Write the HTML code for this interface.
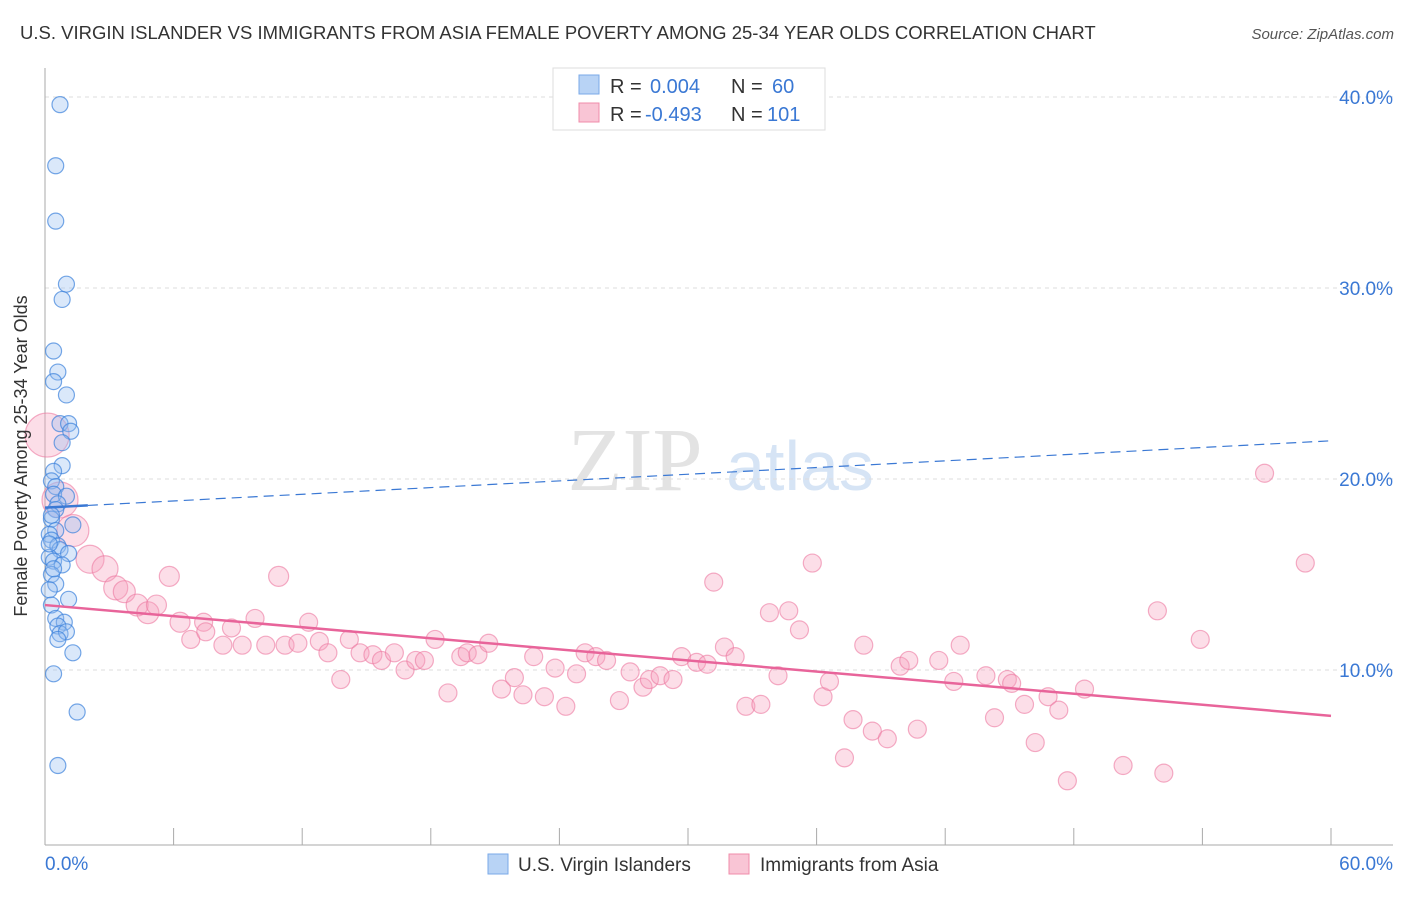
<!DOCTYPE html>
<html><head><meta charset="utf-8"><style>
body{margin:0;background:#fff;font-family:"Liberation Sans",sans-serif;}
</style></head><body>
<svg id="c" width="1406" height="892" xmlns="http://www.w3.org/2000/svg">
<text x="20" y="39" font-size="18.5" fill="#333">U.S. VIRGIN ISLANDER VS IMMIGRANTS FROM ASIA FEMALE POVERTY AMONG 25-34 YEAR OLDS CORRELATION CHART</text>
<text x="1394" y="39" font-size="15" fill="#555" font-style="italic" text-anchor="end">Source: ZipAtlas.com</text>
<text x="635" y="490" font-size="90" fill="#e3e3e3" font-family="Liberation Serif,serif" text-anchor="middle">ZIP</text>
<text x="800" y="490" font-size="70" fill="#d6e4f5" text-anchor="middle">atlas</text>
<g id="grid"></g><g id="axes"></g><g id="pts"></g><g id="lines"></g>
<text x="27" y="456" font-size="18" fill="#333" text-anchor="middle" transform="rotate(-90 27 456)">Female Poverty Among 25-34 Year Olds</text>
<g>
<rect x="553" y="68" width="272" height="62" fill="#fff" stroke="#ddd"/>
<rect x="579" y="75" width="20" height="19" fill="#b8d3f5" stroke="#7aaae8"/>
<rect x="579" y="103" width="20" height="19" fill="#f9c5d5" stroke="#f08caa"/>
<text x="610" y="93" font-size="20" fill="#333">R = </text><text x="650" y="93" font-size="20" fill="#3a78d4">0.004</text>
<text x="731" y="93" font-size="20" fill="#333">N = </text><text x="772" y="93" font-size="20" fill="#3a78d4">60</text>
<text x="610" y="121" font-size="20" fill="#333">R = </text><text x="645" y="121" font-size="20" fill="#3a78d4">-0.493</text>
<text x="731" y="121" font-size="20" fill="#333">N = </text><text x="767" y="121" font-size="20" fill="#3a78d4">101</text>
</g>
<g>
<rect x="488" y="854" width="20" height="20" fill="#b8d3f5" stroke="#7aaae8"/>
<text x="518" y="871" font-size="19" fill="#333">U.S. Virgin Islanders</text>
<rect x="729" y="854" width="20" height="20" fill="#f9c5d5" stroke="#f08caa"/>
<text x="760" y="871" font-size="19" fill="#333">Immigrants from Asia</text>
</g>
</svg>
<script>
const yTicks=[10,20,30,40];
const xTickLabels=["0.0%","60.0%"];
const blueX=[0.7,0.5,0.5,1.0,0.8,0.4,0.6,0.4,1.0,0.7,1.1,1.2,0.8,0.8,0.4,0.3,0.5,0.4,1.0,0.6,0.5,0.3,1.3,0.5,0.2,0.3,0.6,0.7,1.1,0.2,0.4,0.8,0.3,0.5,0.2,1.1,0.3,0.5,0.9,0.6,0.7,1.0,1.3,0.4,1.5,0.6,0.2,0.4,0.3,0.6];
const blueY=[39.6,36.4,33.5,30.2,29.4,26.7,25.6,25.1,24.4,22.9,22.9,22.5,21.9,20.7,20.4,19.9,19.6,19.2,19.1,18.7,18.4,17.9,17.6,17.3,17.1,16.8,16.5,16.3,16.1,15.9,15.7,15.5,15.0,14.5,14.2,13.7,13.4,12.7,12.5,12.3,11.9,12.0,10.9,9.8,7.8,5.0,16.6,15.3,18.1,11.6];
const pinkX=[0.1,0.7,1.3,2.1,2.8,3.3,3.7,4.3,4.8,5.2,5.8,6.3,6.8,7.4,7.5,8.3,8.7,9.2,9.8,10.3,10.9,11.2,11.8,12.3,12.8,13.2,13.8,14.2,14.7,15.3,15.7,16.3,16.8,17.3,17.7,18.2,18.8,19.4,19.7,20.2,20.7,21.3,21.9,22.3,22.8,23.3,23.8,24.3,24.8,25.2,25.7,26.2,26.8,27.3,27.9,28.2,28.7,29.3,29.7,30.4,30.9,31.2,31.7,32.2,32.7,33.4,33.8,34.2,34.7,35.2,35.8,36.3,36.6,37.7,37.3,38.2,38.6,39.3,39.9,40.3,40.7,41.7,42.4,42.7,43.9,44.3,44.9,45.1,45.7,46.2,46.8,47.3,47.7,48.5,50.3,51.9,52.2,53.9,56.9,58.8];
const pinkY=[22.3,18.9,17.3,15.8,15.3,14.3,14.1,13.4,13.0,13.4,14.9,12.5,11.6,12.5,12.0,11.3,12.2,11.3,12.7,11.3,14.9,11.3,11.4,12.5,11.5,10.9,9.5,11.6,10.9,10.8,10.5,10.9,10.0,10.5,10.5,11.6,8.8,10.7,10.9,10.8,11.4,9.0,9.6,8.7,10.7,8.6,10.1,8.1,9.8,10.9,10.7,10.5,8.4,9.9,9.1,9.5,9.7,9.5,10.7,10.4,10.3,14.6,11.2,10.7,8.1,8.2,13.0,9.7,13.1,12.1,15.6,8.6,9.4,7.4,5.4,11.3,6.8,6.4,10.2,10.5,6.9,10.5,9.4,11.3,9.7,7.5,9.5,9.3,8.2,6.2,8.6,7.9,4.2,9.0,5.0,13.1,4.6,11.6,20.3,15.6];
const pinkSize=[22,18,16,14,13,12,11,11,11,10,10,10,9,9,9,9,9,9,9,9,10];
const pinkTrend=[13.4,7.6];
const blueTrend=[18.5,22.0];
const X=v=>45+v/60*1286, Y=v=>861-v*19.1;
const NS="http://www.w3.org/2000/svg";
function mk(t,a,p){const e=document.createElementNS(NS,t);for(const k in a)e.setAttribute(k,a[k]);document.getElementById(p).appendChild(e);return e;}
yTicks.forEach(t=>{
 const l=mk('line',{x1:45,x2:1393,y1:Y(t),y2:Y(t),stroke:'#ddd','stroke-dasharray':'4,4'},'grid');
 
 
 const tx=mk('text',{x:1393,y:Y(t)+7,'font-size':19,fill:'#3a78d4','text-anchor':'end'},'grid');
 tx.textContent=t.toFixed(1)+'%';
 
 
});
let a=mk('line',{x1:45,x2:45,y1:68,y2:845,stroke:'#aaa'},'axes');


a=mk('line',{x1:45,x2:1393,y1:845,y2:845,stroke:'#aaa'},'axes');


for(let i=0;i<=10;i++){const t=mk('line',{x1:X(i*6),x2:X(i*6),y1:828,y2:845,stroke:'#aaa'},'axes');
 
 }
let xl=mk('text',{x:45,y:870,'font-size':19,fill:'#3a78d4'},'axes');xl.textContent=xTickLabels[0];


xl=mk('text',{x:1393,y:870,'font-size':19,fill:'#3a78d4','text-anchor':'end'},'axes');xl.textContent=xTickLabels[1];


pinkX.forEach((v,i)=>{const c=mk('circle',{cx:X(v),cy:Y(pinkY[i]),r:pinkSize[i]||9,fill:'rgba(246,160,188,0.35)',stroke:'rgba(236,120,160,0.6)','stroke-width':1.2},'pts');
 
 });
blueX.forEach((v,i)=>{const c=mk('circle',{cx:X(v),cy:Y(blueY[i]),r:8,fill:'rgba(150,190,240,0.35)',stroke:'rgba(60,130,220,0.7)','stroke-width':1.2},'pts');
 
 });
let ln=mk('line',{x1:X(0),y1:Y(pinkTrend[0]),x2:X(60),y2:Y(pinkTrend[1]),stroke:'#e8649a','stroke-width':2.5},'lines');


const bAt=v=>blueTrend[0]+(blueTrend[1]-blueTrend[0])*v/60;
ln=mk('line',{x1:X(0),y1:Y(bAt(0)),x2:X(2),y2:Y(bAt(2)),stroke:'#3a78d4','stroke-width':2.5},'lines');


ln=mk('line',{x1:X(2),y1:Y(bAt(2)),x2:X(60),y2:Y(bAt(60)),stroke:'#3a78d4','stroke-width':1.2,'stroke-dasharray':'10,6'},'lines');


</script>
</body></html>
